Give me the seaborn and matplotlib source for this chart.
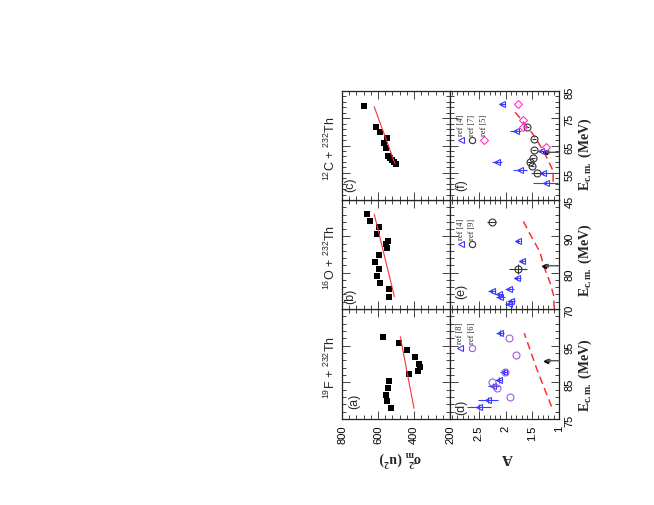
import numpy as np
import pandas as pd
import matplotlib
matplotlib.use("Agg")
import matplotlib.pyplot as plt
import seaborn as sns

# ---------------- data ---------------- #
# top row of original figure: sigma_m^2 (u^2) vs E_cm (MeV)
E_a = [97.4, 95.6, 93.7, 91.8, 90.0, 89.1, 88.1, 87.3, 85.3, 83.4, 81.6, 79.8, 77.9]
sig_a = [572, 483, 441, 396, 374, 368, 379, 428, 539, 544, 556, 552, 529]
sig_a_err = [0, 0, 0, 0, 0, 0, 0, 0, 0, 12, 12, 14, 14]
fit_a_E = [77.9, 97.4]
fit_a_sig = [400, 476]

E_b = [96.1, 94.3, 92.5, 90.6, 88.6, 87.9, 86.7, 84.8, 82.9, 81.0, 79.2, 77.2, 75.4, 73.4]
sig_b = [659, 644, 594, 607, 546, 557, 550, 593, 617, 596, 604, 589, 541, 539]
fit_b_E = [73.4, 96.1]
fit_b_sig = [509, 621]

E_c = [79.4, 71.7, 69.8, 67.9, 66.0, 64.1, 61.1, 60.3, 59.6, 59.1, 58.3]
sig_c = [679, 609, 587, 552, 567, 557, 546, 533, 520, 511, 498]
fit_c_E = [58.4, 79.2]
fit_c_sig = [506, 621]

# bottom row: A vs E_cm
d_ref8_E = [98.5, 87.9, 85.6, 84.0, 80.2, 78.2]
d_ref8_A = [2.10, 2.03, 2.13, 2.23, 2.33, 2.50]
d_ref8_err = [0.07, 0.07, 0.07, 0.10, 0.18, 0.22]
d_ref6_E = [97.0, 92.5, 87.9, 85.2, 83.4, 80.9]
d_ref6_A = [1.93, 1.81, 2.01, 2.26, 2.16, 1.91]
d_calc_E = [78.4, 88.4, 98.4]
d_calc_A = [1.14, 1.41, 1.65]
d_bar_E, d_bar_A = 90.9, 1.25

e_ref4_E = [88.7, 83.2, 78.6, 75.6, 74.9, 74.0, 73.2, 72.3, 71.5]
e_ref4_A = [1.77, 1.69, 1.78, 1.93, 2.26, 2.13, 2.10, 1.90, 1.94]
e_ref4_err = [0.04, 0.05, 0.06, 0.08, 0.07, 0.07, 0.08, 0.08, 0.08]
e_ref9_E = [94.0, 81.0]
e_ref9_A = [2.26, 1.77]
e_ref9_err = [0.09, 0.17]
e_ref9_Eerr = [0.0, 1.5]
e_calc_E = [70.2, 73.7, 77.4, 81.6, 85.8, 90.8, 95.1]
e_calc_A = [1.09, 1.10, 1.17, 1.28, 1.36, 1.55, 1.70]
e_bar_E, e_bar_A = 81.9, 1.28

f_ref4_E = [80.1, 70.4, 63.1, 58.9, 56.0, 54.8, 51.3]
f_ref4_A = [2.06, 1.81, 1.33, 2.16, 1.73, 1.30, 1.25]
f_ref4_err = [0.05, 0.10, 0.07, 0.10, 0.13, 0.22, 0.24]
f_ref7_E = [71.9, 67.3, 63.3, 60.3, 58.9, 57.5, 55.0]
f_ref7_A = [1.60, 1.47, 1.47, 1.49, 1.55, 1.50, 1.42]
f_ref5_E = [80.1, 74.4, 71.7, 64.3]
f_ref5_A = [1.77, 1.67, 1.68, 1.25]
f_calc_E = [51.7, 54.8, 56.0, 59.1, 62.1, 65.2, 69.5, 74.4, 77.4]
f_calc_A = [1.11, 1.11, 1.12, 1.19, 1.27, 1.36, 1.50, 1.70, 1.83]
f_bar_E, f_bar_A = 62.5, 1.27

E_ranges = [(75, 105), (70, 100), (45, 85)]
E_ticks = [[75, 85, 95], [70, 80, 90], [45, 55, 65, 75, 85]]
reactions = [r"$^{19}$F + $^{232}$Th", r"$^{16}$O + $^{232}$Th", r"$^{12}$C + $^{232}$Th"]

# ---------------- style ---------------- #
sns.set_style("ticks")
plt.rcParams["font.family"] = ["Liberation Sans", "DejaVu Sans"]
plt.rcParams["mathtext.fontset"] = "custom"
plt.rcParams["mathtext.rm"] = "Liberation Sans"
plt.rcParams["mathtext.it"] = "Liberation Sans:italic"
plt.rcParams["mathtext.bf"] = "Liberation Serif:bold"

BLUE = "#3b3bff"
PURPLE = "#9a5fd6"
GREY = "#333333"
MAG = "#ff33cc"
RED = "#ff3030"

W, H = 654, 505
fig = plt.figure(figsize=(W / 100, H / 100), dpi=100)


def box(x0, x1, y0, y1):
    return [x0 / W, 1 - y1 / H, (x1 - x0) / W, (y1 - y0) / H]


cols = [(342, 450), (450, 559)]
rows = [(309, 419), (200, 309), (91, 200)]  # (a)/(d), (b)/(e), (c)/(f)

axs = [[fig.add_axes(box(*cols[c], *rows[r])) for c in range(2)] for r in range(3)]

for r in range(3):
    for c in range(2):
        ax = axs[r][c]
        ax.set_ylim(*E_ranges[r])
        ax.set_yticks(E_ticks[r])
        ax.set_yticks(np.arange(E_ranges[r][0], E_ranges[r][1] + 1, 2), minor=True)
        if c == 0:
            ax.set_xlim(800, 200)
            ax.set_xticks([800, 600, 400, 200])
            ax.set_xticks(np.arange(200, 801, 40), minor=True)
        else:
            ax.set_xlim(3.04, 1.0)
            ax.set_xticks([2.5, 2.0, 1.5, 1.0])
            ax.set_xticklabels(["2.5", "2", "1.5", "1"])
            ax.set_xticks(np.arange(1.0, 3.05, 0.1), minor=True)
        ax.tick_params(which="both", direction="in", top=True, bottom=True,
                       left=True, right=True, width=0.7, colors="#444444",
                       labelcolor="black", labelsize=8)
        ax.tick_params(which="major", length=6)
        ax.tick_params(which="minor", length=3)
        ax.tick_params(axis="x", labelbottom=(r == 0), labeltop=False,
                       labelrotation=90, pad=5)
        ax.tick_params(axis="y", labelleft=False, labelright=(c == 1),
                       labelrotation=90, pad=4)
        ax.set_xlabel("")
        ax.set_ylabel("")
        for sp in ax.spines.values():
            sp.set_linewidth(0.9)
            sp.set_color("#222222")

# ---------------- sigma_m^2 panels ---------------- #
sq = dict(marker="s", color="black", s=22, edgecolor="black", linewidth=0)
sig_sets = [(E_a, sig_a, fit_a_E, fit_a_sig), (E_b, sig_b, fit_b_E, fit_b_sig),
            (E_c, sig_c, fit_c_E, fit_c_sig)]
for r, (E, s, fe, fs) in enumerate(sig_sets):
    ax = axs[r][0]
    if r == 0:
        ax.errorbar(s, E, xerr=sig_a_err, fmt="none", ecolor="black", elinewidth=0.8)
    sns.scatterplot(x=s, y=E, ax=ax, legend=False, **sq)
    sns.lineplot(x=fs, y=fe, ax=ax, sort=False, estimator=None, color=RED, linewidth=0.8)
    ax.set_xlim(800, 200)

# ---------------- A panels ---------------- #
def open_pts(ax, A, E, marker, color, xerr=None, yerr=None, ms=5):
    ax.errorbar(A, E, xerr=xerr, yerr=yerr, fmt=marker, mfc="none", mec=color,
                ecolor=color, ms=ms, mew=0.8, elinewidth=0.8, capsize=0)


def calc_curve(ax, A, E):
    sns.lineplot(x=A, y=E, ax=ax, sort=False, estimator=None, color=RED,
                 linewidth=1.1, dashes=False, linestyle=(0, (5, 3)))


def barrier(ax, E, A):
    ax.annotate("", xy=(A, E), xytext=(1.0, E),
                arrowprops=dict(arrowstyle="-|>", color="#555555", lw=1.0,
                                mutation_scale=5, shrinkA=0, shrinkB=0))
    ax.plot([A], [E], marker="<", color="black", ms=3)


def legend_entry(ax, xa, ya, marker, color, label):
    ax.plot([xa], [ya], marker=marker, mfc="none", mec=color, ms=4.5, mew=0.8,
            transform=ax.transAxes, clip_on=False)
    ax.text(xa, ya + 0.035, label, rotation=90, ha="center", va="bottom",
            transform=ax.transAxes, fontsize=6, family="Liberation Serif")


ax = axs[0][1]
calc_curve(ax, d_calc_A, d_calc_E)
open_pts(ax, d_ref8_A, d_ref8_E, "<", BLUE, xerr=d_ref8_err, yerr=0.8)
open_pts(ax, d_ref6_A, d_ref6_E, "o", PURPLE)
barrier(ax, d_bar_E, d_bar_A)
legend_entry(ax, 0.095, 0.645, "<", BLUE, "ref [8]")
legend_entry(ax, 0.205, 0.645, "o", PURPLE, "ref [6]")

ax = axs[1][1]
calc_curve(ax, e_calc_A, e_calc_E)
open_pts(ax, e_ref4_A, e_ref4_E, "<", BLUE, xerr=e_ref4_err, yerr=0.5)
open_pts(ax, e_ref9_A, e_ref9_E, "o", GREY, xerr=e_ref9_err, yerr=e_ref9_Eerr)
barrier(ax, e_bar_E, e_bar_A)
legend_entry(ax, 0.10, 0.60, "<", BLUE, "ref [4]")
legend_entry(ax, 0.205, 0.60, "o", GREY, "ref [9]")

ax = axs[2][1]
calc_curve(ax, f_calc_A, f_calc_E)
open_pts(ax, f_ref4_A, f_ref4_E, "<", BLUE, xerr=f_ref4_err, yerr=0.5)
open_pts(ax, f_ref7_A, f_ref7_E, "o", GREY, xerr=0.04)
open_pts(ax, f_ref5_A, f_ref5_E, "D", MAG, ms=4.5)
barrier(ax, f_bar_E, f_bar_A)
legend_entry(ax, 0.10, 0.555, "<", BLUE, "ref [4]")
legend_entry(ax, 0.205, 0.555, "o", GREY, "ref [7]")
legend_entry(ax, 0.31, 0.555, "D", MAG, "ref [5]")

for r in range(3):
    axs[r][1].set_xlim(3.04, 1.0)
    axs[r][1].set_ylim(*E_ranges[r])

# ---------------- labels ---------------- #
panel_pos_left = [(0.11, 0.16), (0.08, 0.12), (0.08, 0.14)]
panel_pos_right = [(0.10, 0.11), (0.10, 0.16), (0.10, 0.14)]
for r, lab in enumerate(["(a)", "(b)", "(c)"]):
    x, y = panel_pos_left[r]
    axs[r][0].text(x, y, lab, rotation=90, ha="center", va="center",
                   transform=axs[r][0].transAxes, fontsize=9)
for r, lab in enumerate(["(d)", "(e)", "(f)"]):
    x, y = panel_pos_right[r]
    axs[r][1].text(x, y, lab, rotation=90, ha="center", va="center",
                   transform=axs[r][1].transAxes, fontsize=9)

for r in range(3):
    axs[r][0].text(-0.11, 0.47, reactions[r], rotation=90, ha="center", va="center",
                   transform=axs[r][0].transAxes, fontsize=9)

E_label_y = [375, 260, 154]
for y in E_label_y:
    fig.text(585 / W, 1 - y / H, r"E$_{\mathbf{c.m.}}$ (MeV)", rotation=90,
             ha="center", va="center", fontsize=10, family="Liberation Serif",
             fontweight="bold")

fig.text(400 / W, 1 - 458 / H, r"σ$_{\mathbf{m}}^{\mathbf{2}}$ (u$^{\mathbf{2}}$)",
         rotation=180, ha="center", va="center", fontsize=10,
         family="Liberation Serif", fontweight="bold")
fig.text(507 / W, 1 - 458 / H, "A", rotation=180, ha="center", va="center",
         fontsize=11, family="Liberation Serif", fontweight="bold")

fig.savefig("out.png", dpi=100)
